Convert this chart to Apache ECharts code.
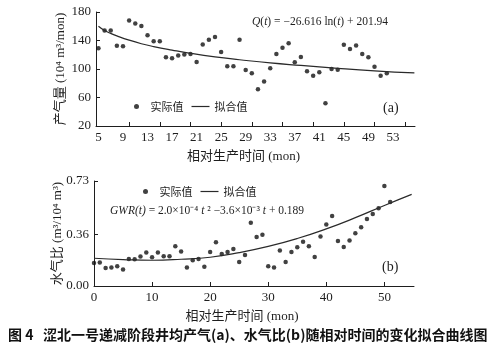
<!DOCTYPE html>
<html><head><meta charset="utf-8">
<script src="https://cdn.jsdelivr.net/npm/echarts@6/dist/echarts.min.js"></script>
<style>html,body{margin:0;padding:0;background:#fff}#c{width:500px;height:350px}</style>
</head><body><div id="c"></div>
<script>
// ---- Chart (a): gas production ----
const monthsA = [5,6,7,8,9,10,11,12,13,14,15,16,17,18,19,20,21,22,23,24,25,26,27,28,29,30,31,32,33,34,35,36,37,38,39,40,41,42,43,44,45,46,47,48,49,50,51,52];
const gasA = [129,154,154,132.5,132,168,164,160.5,147.5,139,139,116.5,115,119,120.5,121,110,134.5,141,145,124,104,104,141,98.5,94,71.5,82.5,101,121,130,136,109.5,117,97,90.5,95.5,52,100,99,134,128,133,121,116.5,103,90.5,94];
const fitMonthsA = [5,6,7,8,10,12,14,17,20,24,28,33,38,44,50,56.5];
const fitGasA = [160,154,150,146.5,140.5,135.5,131.5,126.5,122,117,113,108.5,105,101,97.5,94.5];
const xLabelsA = [5,9,13,17,21,25,29,33,37,41,45,49,53];
const xTicksA = [10,15,20,25,30,35,40,45,50,55];
const yLabelsA = [20,60,100,140,180];

// ---- Chart (b): water-gas ratio ----
const monthsB = [0,1,2,3,4,5,6,7,8,9,10,11,12,13,14,15,16,17,18,19,20,21,22,23,24,25,26,27,28,29,30,31,32,33,34,35,36,37,38,39,40,41,42,43,44,45,46,47,48,49,50,51];
const wgrB = [0.160,0.163,0.126,0.128,0.137,0.114,0.188,0.186,0.205,0.233,0.200,0.233,0.207,0.207,0.277,0.240,0.128,0.179,0.188,0.133,0.237,0.305,0.223,0.237,0.258,0.167,0.216,0.439,0.340,0.356,0.137,0.128,0.247,0.167,0.237,0.270,0.307,0.277,0.202,0.344,0.428,0.486,0.312,0.272,0.317,0.367,0.409,0.465,0.500,0.540,0.695,0.584];
const fitMonthsB = [0,5,10,15,20,25,30,35,40,45,50,54.7];
const fitWgrB = [0.193,0.184,0.179,0.186,0.200,0.232,0.275,0.330,0.397,0.475,0.560,0.637];
const xLabelsB = [0,10,20,30,40,50];
const yLabelsB = [0,0.36,0.73];

const pairs = (xs, ys) => xs.map((x, i) => [x, ys[i]]);
const INK = '#1e1e1e';
const SERIF = '"Liberation Serif","Times New Roman",serif';
const MIX = '"Liberation Serif","Noto Sans CJK SC",serif';
const CJK = '"Noto Sans CJK SC",sans-serif';

function axisBase() {
  return {
    axisLine: { show: true, onZero: false, lineStyle: { color: INK, width: 1 } },
    axisTick: { show: true, inside: true, length: 4, lineStyle: { color: INK } },
    axisLabel: { color: INK, fontFamily: SERIF, fontSize: 13, margin: 5 },
    splitLine: { show: false },
    nameMoveOverlap: false,
    nameTextStyle: { color: INK, fontFamily: MIX, fontSize: 13 }
  };
}
const xName = { color: INK, fontFamily: MIX, fontSize: 13, padding: [0, 24, 0, 0] };
const legendText = { fontSize: 11, color: INK, fontFamily: CJK };
const legendData = [{ name: '实际值' }, { name: '拟合值', icon: 'path://M0,0L18,0L18,1.2L0,1.2Z' }];

const chart = echarts.init(document.getElementById('c'), null, { renderer: 'canvas' });
const option = {
  backgroundColor: '#ffffff',
  animation: false,
  grid: [
    { left: 96, top: 12, width: 319, height: 114 },
    { left: 94, top: 181, width: 320, height: 105 }
  ],
  xAxis: [
    Object.assign(axisBase(), {
      type: 'value', gridIndex: 0, min: 4.6, max: 56.6,
      name: '相对生产时间 (mon)', nameLocation: 'middle', nameGap: 24, nameTextStyle: xName,
      axisLabel: Object.assign(axisBase().axisLabel, { customValues: xLabelsA }),
      axisTick: Object.assign(axisBase().axisTick, { customValues: xTicksA })
    }),
    Object.assign(axisBase(), {
      type: 'value', gridIndex: 1, min: 0, max: 55.1,
      name: '相对生产时间 (mon)', nameLocation: 'middle', nameGap: 24, nameTextStyle: xName,
      axisLabel: Object.assign(axisBase().axisLabel, { customValues: xLabelsB }),
      axisTick: Object.assign(axisBase().axisTick, { customValues: xLabelsB })
    })
  ],
  yAxis: [
    Object.assign(axisBase(), {
      type: 'value', gridIndex: 0, min: 20, max: 180,
      name: '产气量 (10⁴ m³/mon)', nameLocation: 'middle', nameRotate: 90, nameGap: 29,
      axisLabel: Object.assign(axisBase().axisLabel, { customValues: yLabelsA }),
      axisTick: Object.assign(axisBase().axisTick, { customValues: yLabelsA })
    }),
    Object.assign(axisBase(), {
      type: 'value', gridIndex: 1, min: 0, max: 0.73,
      name: '水气比 (m³/10⁴ m³)', nameLocation: 'middle', nameRotate: 90, nameGap: 30,
      axisLabel: Object.assign(axisBase().axisLabel, { customValues: yLabelsB, formatter: v => v.toFixed(2) }),
      axisTick: Object.assign(axisBase().axisTick, { customValues: yLabelsB })
    })
  ],
  legend: [
    { left: 129, top: 96, itemWidth: 18, itemHeight: 5, itemGap: 8, selectedMode: false,
      data: legendData, textStyle: legendText },
    { left: 138, top: 181, itemWidth: 18, itemHeight: 5, itemGap: 8, selectedMode: false,
      data: legendData, textStyle: legendText }
  ],
  series: [
    { name: '实际值', type: 'scatter', xAxisIndex: 0, yAxisIndex: 0, data: pairs(monthsA, gasA),
      symbol: 'circle', symbolSize: 4.5, itemStyle: { color: '#111' } },
    { name: '拟合值', type: 'line', xAxisIndex: 0, yAxisIndex: 0, data: pairs(fitMonthsA, fitGasA),
      smooth: true, symbol: 'none', itemStyle: { color: '#2a2a2a' }, lineStyle: { color: '#2a2a2a', width: 1.2 } },
    { name: '实际值', type: 'scatter', xAxisIndex: 1, yAxisIndex: 1, data: pairs(monthsB, wgrB),
      symbol: 'circle', symbolSize: 4.5, itemStyle: { color: '#111' } },
    { name: '拟合值', type: 'line', xAxisIndex: 1, yAxisIndex: 1, data: pairs(fitMonthsB, fitWgrB),
      smooth: true, symbol: 'none', itemStyle: { color: '#2a2a2a' }, lineStyle: { color: '#2a2a2a', width: 1.2 } }
  ],
  graphic: [
    { type: 'text', x: 252, y: 22, style: {
        text: '{i|Q}({i|t}) = −26.616 ln({i|t}) + 201.94',
        fontFamily: SERIF, fontSize: 11.5, fill: INK, verticalAlign: 'middle', align: 'left',
        rich: { i: { fontStyle: 'italic', fontFamily: SERIF, fontSize: 11.5, fill: INK } } } },
    { type: 'text', x: 383, y: 108, style: { text: '(a)', fontFamily: SERIF, fontSize: 14, fill: INK, verticalAlign: 'middle' } },
    { type: 'text', x: 110, y: 211, style: {
        text: '{i|GWR(t)} = 2.0×10⁻⁴ {i|t} ² −3.6×10⁻³ {i|t} + 0.189',
        fontFamily: SERIF, fontSize: 11.5, fill: INK, verticalAlign: 'middle', align: 'left',
        rich: { i: { fontStyle: 'italic', fontFamily: SERIF, fontSize: 11.5, fill: INK } } } },
    { type: 'text', x: 382, y: 267, style: { text: '(b)', fontFamily: SERIF, fontSize: 14, fill: INK, verticalAlign: 'middle' } },
    { type: 'text', x: 8, y: 335, style: {
        text: '图 4   涩北一号递减阶段井均产气(a)、水气比(b)随相对时间的变化拟合曲线图',
        fontFamily: CJK, fontWeight: 'bold', fontSize: 14, fill: '#111', verticalAlign: 'middle' } }
  ]
};
chart.setOption(option);
</script>
</body></html>
